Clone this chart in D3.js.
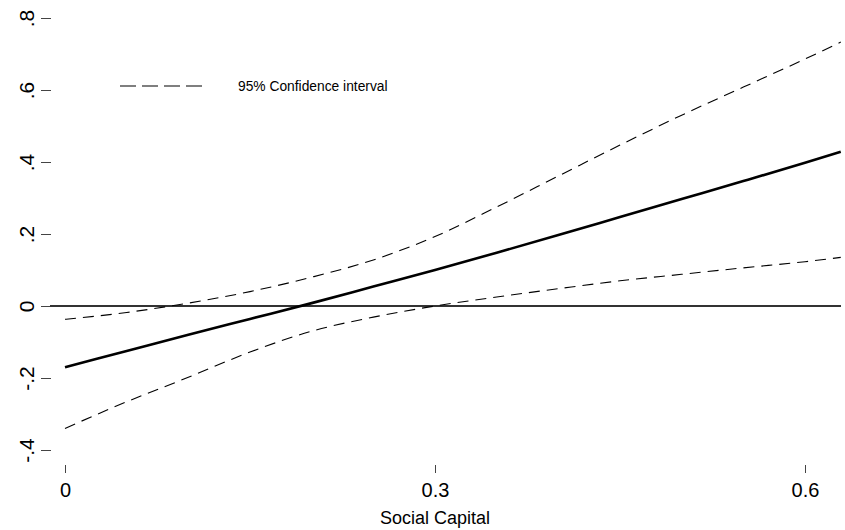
<!DOCTYPE html>
<html lang="en">
  <head>
    <meta charset="utf-8">
    <title>Marginal effect of social capital</title>
    <script src="https://cdn.jsdelivr.net/npm/d3@7/dist/d3.min.js"></script>
    <style>
      body { margin: 0; background: #fff; }
      svg { display: block; font-family: "Liberation Sans", Arial, sans-serif; }
    </style>
  </head>
  <body>
    <svg id="chart" width="845" height="530"></svg>

  <script>
  // values
  var socialCapital = [0, 0.05, 0.1, 0.15, 0.2, 0.25, 0.3, 0.35, 0.4, 0.45, 0.5, 0.55, 0.6, 0.629]
  var effect = [-0.170, -0.125, -0.080, -0.036, 0.008, 0.054, 0.100, 0.148, 0.197, 0.247, 0.297, 0.347, 0.398, 0.4286]
  var upperCI = [-0.037, -0.018, 0.008, 0.040, 0.080, 0.128, 0.193, 0.275, 0.361, 0.447, 0.530, 0.608, 0.686, 0.733]
  var lowerCI = [-0.340, -0.266, -0.198, -0.128, -0.070, -0.031, 0.000, 0.025, 0.048, 0.070, 0.088, 0.106, 0.123, 0.135]

  var xTicks = [0, 0.3, 0.6]
  var xTickLabels = ["0", "0.3", "0.6"]
  var yTicks = [-0.4, -0.2, 0, 0.2, 0.4, 0.6, 0.8]
  var yTickLabels = ["-.4", "-.2", "0", ".2", ".4", ".6", ".8"]

  var svg = d3.select("#chart")

  var x = d3.scaleLinear().domain([0, 0.6]).range([65, 805])
  var y = d3.scaleLinear().domain([0, 0.8]).range([306, 18])

  // y axis (ticks only, no domain line)
  var yAxis = svg.append("g")
    .attr("transform", "translate(51,0)")
    .call(d3.axisLeft(y).tickValues(yTicks).tickSize(10)
      .tickFormat((d, i) => yTickLabels[i]))
  yAxis.select(".domain").remove()
  yAxis.selectAll(".tick line").attr("stroke", "#444")
  yAxis.selectAll(".tick text")
    .attr("font-size", 21)
    .attr("fill", "#000")
    .attr("x", null).attr("dy", null)
    .attr("text-anchor", "middle")
    .attr("transform", "translate(-17,0) rotate(-90)")

  // x axis
  var xAxis = svg.append("g")
    .attr("transform", "translate(0,465)")
    .call(d3.axisBottom(x).tickValues(xTicks).tickSize(8).tickPadding(10)
      .tickFormat((d, i) => xTickLabels[i]))
  xAxis.select(".domain").remove()
  xAxis.selectAll(".tick line").attr("stroke", "#444")
  xAxis.selectAll(".tick text").attr("font-size", 20).attr("fill", "#000")

  svg.append("text")
    .attr("x", 435)
    .attr("y", 524)
    .attr("text-anchor", "middle")
    .attr("font-size", 18)
    .text("Social Capital")

  // zero reference line
  svg.append("line")
    .attr("x1", 50).attr("x2", 841)
    .attr("y1", y(0)).attr("y2", y(0))
    .attr("stroke", "#333")
    .attr("stroke-width", 2.2)

  var line = d3.line()
    .x((d, i) => x(socialCapital[i]))
    .y(d => y(d))
    .curve(d3.curveMonotoneX)

  svg.append("path")
    .datum(upperCI)
    .attr("d", line)
    .attr("fill", "none")
    .attr("stroke", "#000")
    .attr("stroke-width", 1.1)
    .attr("stroke-dasharray", "11,7")

  svg.append("path")
    .datum(lowerCI)
    .attr("d", line)
    .attr("fill", "none")
    .attr("stroke", "#000")
    .attr("stroke-width", 1.1)
    .attr("stroke-dasharray", "11,7")

  svg.append("path")
    .datum(effect)
    .attr("d", line)
    .attr("fill", "none")
    .attr("stroke", "#000")
    .attr("stroke-width", 2.6)

  // legend
  svg.append("line")
    .attr("x1", 120).attr("x2", 208)
    .attr("y1", 86).attr("y2", 86)
    .attr("stroke", "#000")
    .attr("stroke-width", 1.1)
    .attr("stroke-dasharray", "16,6")

  svg.append("text")
    .attr("x", 238)
    .attr("y", 91)
    .attr("font-size", 13.8)
    .text("95% Confidence interval")
  </script>
  </body>
</html>
